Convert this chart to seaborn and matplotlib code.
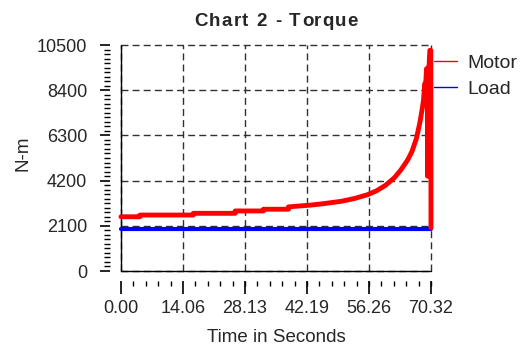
import matplotlib
matplotlib.use("Agg")
import matplotlib.pyplot as plt
import numpy as np
import pandas as pd
import seaborn as sns
from matplotlib.ticker import FixedLocator, FixedFormatter, AutoMinorLocator
from matplotlib.lines import Line2D

# Motor torque trace (N-m) against time (s); repeated times mark the steps
time_s = [0.0, 4.3, 4.3, 16.4, 16.4, 25.9, 25.9, 32.3, 32.3, 38.0, 38.0,
          42.9, 46.0, 50.0, 53.0, 56.0, 58.0, 60.0, 62.0, 63.5, 65.0, 66.0,
          67.0, 67.8, 68.3, 68.6, 68.9, 69.1, 69.3, 69.5, 69.55, 69.6, 69.9,
          70.05, 70.28, 70.32]
motor_nm = [2520, 2520, 2600, 2600, 2680, 2680, 2790, 2790, 2870, 2870, 2980,
            3060, 3130, 3240, 3370, 3550, 3730, 3980, 4330, 4700, 5150, 5550,
            6150, 6900, 7500, 7900, 8700, 8600, 9400, 9400, 4400, 9300, 9600,
            10250, 10250, 2000]

# Load torque stays flat over the run
load_time_s = [0.0, 70.32]
load_nm = [1930, 1930]

x_ticks = [0.00, 14.06, 28.13, 42.19, 56.26, 70.32]
x_tick_labels = ["0.00", "14.06", "28.13", "42.19", "56.26", "70.32"]
y_ticks = [0, 2100, 4200, 6300, 8400, 10500]
y_tick_labels = ["0", "2100", "4200", "6300", "8400", "10500"]

series_names = ["Motor", "Load"]
series_colors = ["#ff0000", "#0000ff"]

sns.set_theme(style="white")
plt.rcParams["font.family"] = ["Liberation Sans", "DejaVu Sans"]

motor_df = pd.DataFrame({"time": time_s, "torque": motor_nm})
load_df = pd.DataFrame({"time": load_time_s, "torque": load_nm})

fig = plt.figure(figsize=(5.2, 3.47), dpi=100)
ax = fig.add_axes([121 / 520, 1 - 271 / 347, 310 / 520, 226 / 347])

sns.lineplot(data=load_df, x="time", y="torque", ax=ax, color=series_colors[1],
             lw=3.0, estimator=None, sort=False, zorder=4)
sns.lineplot(data=motor_df, x="time", y="torque", ax=ax, color=series_colors[0],
             lw=3.5, estimator=None, sort=False, zorder=5)
for ln in ax.get_lines():
    ln.set_clip_on(False)

ax.set_xlim(x_ticks[0], x_ticks[-1])
ax.set_ylim(y_ticks[0], y_ticks[-1])

ax.xaxis.set_major_locator(FixedLocator(x_ticks))
ax.xaxis.set_major_formatter(FixedFormatter(x_tick_labels))
ax.xaxis.set_minor_locator(AutoMinorLocator(5))
ax.yaxis.set_major_locator(FixedLocator(y_ticks))
ax.yaxis.set_major_formatter(FixedFormatter(y_tick_labels))
ax.yaxis.set_minor_locator(AutoMinorLocator(10))

# detached tick rulers, frame drawn separately
ax.spines["left"].set_position(("outward", 7.9))
ax.spines["bottom"].set_position(("outward", 7.2))
for side in ["left", "bottom"]:
    ax.spines[side].set_edgecolor("none")
for side in ["top", "right"]:
    ax.spines[side].set_visible(False)

ax.tick_params(axis="x", which="major", direction="out", length=9, width=1.2,
               color="black", labelsize=13, pad=5, bottom=True)
ax.tick_params(axis="x", which="minor", direction="out", length=3.8, width=1.0,
               color="black", bottom=True)
ax.tick_params(axis="y", which="major", direction="out", length=7.5, width=1.2,
               color="black", labelsize=13, pad=9, left=True)
ax.tick_params(axis="y", which="minor", direction="out", length=4.3, width=1.0,
               color="black", left=True)

ax.grid(True, which="major", color="#303030", lw=1.0, ls=(0, (5, 3)))
ax.grid(False, which="minor")
for gl in ax.get_xgridlines() + ax.get_ygridlines():
    gl.set_clip_on(False)

ax.axvline(x_ticks[0], color="black", lw=1.0, zorder=3, clip_on=False)
ax.axhline(y_ticks[0], color="black", lw=1.0, zorder=3, clip_on=False)

ax.set_xlabel("Time in Seconds", fontsize=13.5)
ax.set_ylabel("N-m", fontsize=13.5)
ax.xaxis.set_label_coords(0.5, -0.255)
ax.yaxis.set_label_coords(-0.29, 0.52)

handles = [Line2D([], [], color=c, lw=1.0) for c in series_colors]
ax.legend(handles, series_names, loc="upper left", bbox_to_anchor=(1.01, 0.96),
          frameon=False, fontsize=14, handlelength=1.2, handletextpad=0.5,
          labelspacing=0.45, borderpad=0, borderaxespad=0)


def spaced_title(fig, ax, text, y_px, tracking_px, **kw):
    """Draw a letter-spaced title centred over the axes."""
    renderer = fig.canvas.get_renderer()
    probe = fig.text(0, 0, "", **kw)

    def width(s):
        probe.set_text(s + "I")
        w = probe.get_window_extent(renderer).width
        probe.set_text("I")
        return w - probe.get_window_extent(renderer).width

    total = width(text) + tracking_px * (len(text) - 1)
    bbox = ax.get_window_extent(renderer)
    x0 = (bbox.x0 + bbox.x1) / 2 - total / 2
    W, H = fig.canvas.get_width_height()
    for i, ch in enumerate(text):
        if ch == " ":
            continue
        xo = x0 + width(text[:i]) + tracking_px * i
        fig.text(xo / W, 1 - y_px / H, ch, ha="left", va="center", **kw)
    probe.remove()


fig.canvas.draw()
spaced_title(fig, ax, "Chart 2 - Torque", 22, 1.4, fontsize=13.5, fontweight="bold")

fig.savefig("out.png", dpi=100)
